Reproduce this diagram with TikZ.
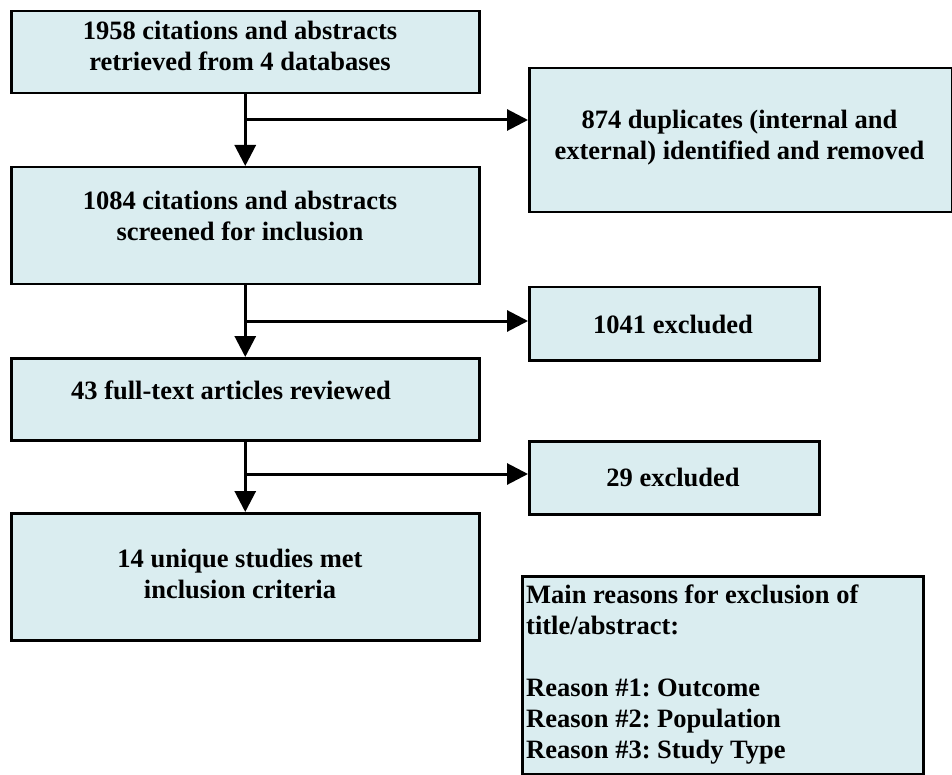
\documentclass[tikz,border=0pt]{standalone}
\usepackage{fontspec}
\setmainfont{Liberation Serif}
\usetikzlibrary{arrows.meta}
\definecolor{boxfill}{RGB}{218,237,240}
\frenchspacing
\begin{document}
\begin{tikzpicture}[x=1pt,y=-1pt,
  box/.style={draw=black, line width=2.5pt, fill=boxfill, anchor=north west, inner sep=0pt},
  txt/.style={font=\bfseries\fontsize{26.5}{31}\selectfont, align=center, inner sep=0pt},
  arr/.style={line width=3pt, -{Triangle[length=21pt,width=21pt]}}]
\useasboundingbox (0,0) rectangle (952,775);
% boxes
\node[box, minimum width=468pt, minimum height=82pt] (a) at (10,10) {};
\node[box, minimum width=423pt, minimum height=144pt] (b) at (528,67) {};
\node[box, minimum width=468pt, minimum height=117pt] (c) at (10,166) {};
\node[box, minimum width=290pt, minimum height=73pt] (d) at (528,286) {};
\node[box, minimum width=468pt, minimum height=82pt] (e) at (10,357) {};
\node[box, minimum width=290pt, minimum height=73pt] (f) at (528,440) {};
\node[box, minimum width=468pt, minimum height=127pt] (g) at (10,512) {};
\node[box, minimum width=401pt, minimum height=198pt] (h) at (521,575) {};
% texts
\node[txt] (ta) at (240,45.5) {1958 citations and abstracts\\retrieved from 4 databases};
\node[txt] (tb) at (739.5,138) {874 duplicates (internal and\\external) identified and removed};
\node[txt] (tc) at (240,215.5) {1084 citations and abstracts\\screened for inclusion};
\node[txt] (td) at (673,324) {1041 excluded};
\node[txt] (te) at (231,390.5) {43 full-text articles reviewed};
\node[txt] (tf) at (673,477) {29 excluded};
\node[txt] (tg) at (240,574) {14 unique studies met\\inclusion criteria};
\node[txt, align=left, anchor=north west] (th) at (526,585) {Main reasons for exclusion of\\title/abstract:\\[31pt]Reason \#1: Outcome\\Reason \#2: Population\\Reason \#3: Study Type};
% connectors
\coordinate (j1) at (244,120);
\coordinate (j2) at (244,321);
\coordinate (j3) at (244,474);
\draw[arr] (a) -- (c);
\draw[arr] (c) -- (e);
\draw[arr] (e) -- (g);
\draw[arr] (j1) -- (j1 -| b.west);
\draw[arr] (j2) -- (j2 -| d.west);
\draw[arr] (j3) -- (j3 -| f.west);
\end{tikzpicture}
\end{document}
